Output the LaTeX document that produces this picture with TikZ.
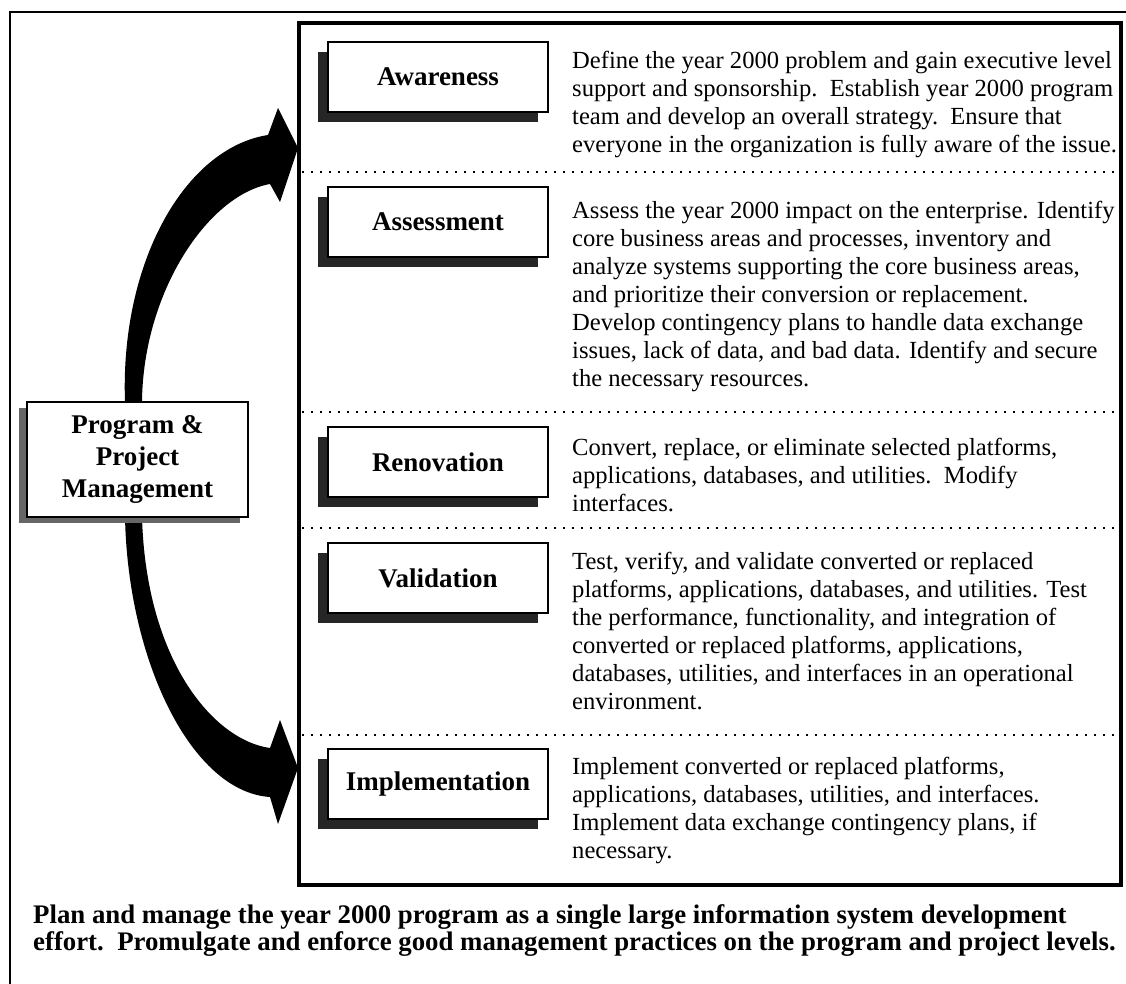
\documentclass[tikz,border=0pt]{standalone}
\usepackage{fontspec}
\setmainfont{Liberation Serif}
\usetikzlibrary{shadows}
\begin{document}
\begin{tikzpicture}[x=1pt,y=-1pt,
  lbl/.style={draw=black, line width=1.8pt, fill=white, minimum width=220pt, minimum height=70pt,
    inner sep=0pt, font=\fontsize{27}{32}\selectfont\bfseries,
    drop shadow={shadow xshift=-10pt, shadow yshift=-10pt, fill=black!85, opacity=1}},
  ppmbox/.style={draw=black, line width=1.5pt, fill=white, minimum width=221pt, minimum height=115pt,
    inner sep=0pt, align=center, font=\fontsize{27}{32}\selectfont\bfseries,
    drop shadow={shadow xshift=-8pt, shadow yshift=-6pt, fill=black!60, opacity=1}},
  desc/.style={anchor=north west, align=left, inner sep=0pt, font=\fontsize{24.6}{28}\selectfont},
  sepline/.style={line width=2pt, dash pattern=on 2pt off 7pt},
  bigarrow/.style={fill=black}
]
\useasboundingbox (0,0) rectangle (1126,984);
% outer frame (open to right and bottom)
\draw[line width=2pt] (10,984) -- (10,12) -- (1126,12);

% curved arrows
\fill[bigarrow] (125,402) .. controls (120,262) and (185,148) .. (268,135)
  -- (278,108) -- (298,148) -- (280,202) -- (270,184)
  .. controls (208,195) and (143,292) .. (142,402) -- cycle;
\fill[bigarrow] (125,517) .. controls (128,662) and (192,792) .. (270,797)
  -- (278,824) -- (298,768) -- (280,720) -- (270,748)
  .. controls (213,740) and (146,660) .. (142,517) -- cycle;

% panel
\draw[line width=3.5pt] (299,23) rectangle (1121,885);
\draw[sepline] (302,172) -- (1119,172);
\draw[sepline] (302,412) -- (1119,412);
\draw[sepline] (302,528) -- (1119,528);
\draw[sepline] (302,735) -- (1119,735);

% program box
\node[ppmbox] (ppm) at (137.5,459.5) {Program \&\\Project\\Management};

% phase labels
\node[lbl] (aw) at (438,77) {Awareness};
\node[lbl] (as) at (438,222) {Assessment};
\node[lbl] (re) at (438,462) {Renovation};
\node[lbl] (va) at (438,578) {Validation};
\node[lbl] (im) at (438,784) {Implementation};

% descriptions
\node[desc] (daw) at (572,51) {Define the year 2000 problem and gain executive level\\
support and sponsorship.\ \ Establish year 2000 program\\
team and develop an overall strategy.\ \ Ensure that\\
everyone in the organization is fully aware of the issue.};
\node[desc] (das) at (572,201) {Assess the year 2000 impact on the enterprise. Identify\\
core business areas and processes, inventory and\\
analyze systems supporting the core business areas,\\
and prioritize their conversion or replacement.\\
Develop contingency plans to handle data exchange\\
issues, lack of data, and bad data. Identify and secure\\
the necessary resources.};
\node[desc] (dre) at (572,438) {Convert, replace, or eliminate selected platforms,\\
applications, databases, and utilities.\ \ Modify\\
interfaces.};
\node[desc] (dva) at (572,552) {Test, verify, and validate converted or replaced\\
platforms, applications, databases, and utilities. Test\\
the performance, functionality, and integration of\\
converted or replaced platforms, applications,\\
databases, utilities, and interfaces in an operational\\
environment.};
\node[desc] (dim) at (572,757) {Implement converted or replaced platforms,\\
applications, databases, utilities, and interfaces.\\
Implement data exchange contingency plans, if\\
necessary.};

% bottom statement
\node[anchor=north west, align=left, inner sep=0pt, font=\fontsize{26.8}{27.5}\selectfont\bfseries] (plan) at (33,904)
 {Plan and manage the year 2000 program as a single large information system development\\
effort.\ \ Promulgate and enforce good management practices on the program and project levels.};
\end{tikzpicture}
\end{document}
